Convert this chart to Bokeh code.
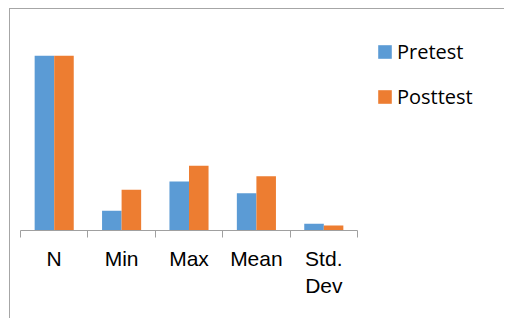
from bokeh.plotting import figure
from bokeh.models import Range1d, LinearAxis, FixedTicker, Legend, LegendItem, ColumnDataSource
from bokeh.embed import file_html
from bokeh.resources import INLINE

categories = ["N", "Min", "Max", "Mean", "Std.\nDev"]
pretest = [30, 3.4, 8.4, 6.4, 1.15]
posttest = [30, 7.0, 11.1, 9.3, 0.86]
series_names = ["Pretest", "Posttest"]

idx = list(range(len(categories)))
src = ColumnDataSource(dict(
    x_pre=[i - 0.145 for i in idx],
    x_post=[i + 0.145 for i in idx],
    pre=pretest,
    post=posttest,
))

W, H = 495, 310
LEFT, TOP, BOTTOM = 10, 17, 89
CAT_PX = 67.4
x_start = -0.5
x_end = x_start + (W - LEFT) / CAT_PX

p = figure(width=W, height=H,
           x_range=Range1d(x_start, x_end),
           y_range=Range1d(0, 35),
           x_axis_type=None, y_axis_type=None,
           output_backend="svg", toolbar_location=None,
           min_border_left=LEFT, min_border_right=0,
           min_border_top=TOP, min_border_bottom=BOTTOM)
p.outline_line_color = None
p.xgrid.visible = False
p.ygrid.visible = False
p.styles = {"margin-left": "10px", "margin-top": "9px",
            "box-shadow": "-1px -1px 0px 0px #A6A6A6"}

r1 = p.vbar(x="x_pre", top="pre", width=0.29, source=src, color="#5B9BD5", line_color=None)
r2 = p.vbar(x="x_post", top="post", width=0.29, source=src, color="#ED7D31", line_color=None)

ticker = FixedTicker(ticks=idx, minor_ticks=[i - 0.5 for i in idx] + [len(idx) - 0.5])
ax = LinearAxis(ticker=ticker, bounds=(-0.5, len(idx) - 0.5))
ax.major_label_overrides = {i: c for i, c in zip(idx, categories)}
ax.major_tick_line_color = None
ax.major_tick_out = 0
ax.major_tick_in = 0
ax.minor_tick_out = 7
ax.minor_tick_in = 0
ax.minor_tick_line_color = "#A0A0A0"
ax.axis_line_color = "#A0A0A0"
ax.major_label_standoff = 9
ax.major_label_text_font = "Liberation Sans"
ax.major_label_text_font_size = "21px"
ax.major_label_text_color = "#000000"
p.add_layout(ax, "below")

legend = Legend(items=[LegendItem(label=series_names[0], renderers=[r1]),
                       LegendItem(label=series_names[1], renderers=[r2])],
                location=(356, 120))
legend.padding = 0
legend.margin = 0
legend.spacing = 18
legend.glyph_width = 17
legend.glyph_height = 17
legend.label_height = 24
legend.label_standoff = 4
legend.label_text_font = "Open Sans"
legend.label_text_font_size = "20px"
legend.label_text_color = "#000000"
legend.border_line_color = None
legend.background_fill_alpha = 0
p.add_layout(legend, "center")

open("out.html", "w").write(file_html(p, INLINE))
